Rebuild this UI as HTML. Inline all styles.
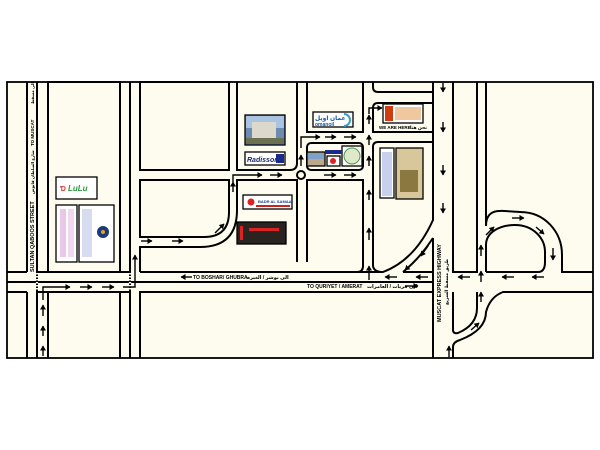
<!DOCTYPE html>
<html><head><meta charset="utf-8"><style>
html,body{margin:0;padding:0;background:#fff;}
svg{display:block;}
text{font-family:"Liberation Sans","DejaVu Sans",sans-serif;font-weight:bold;}
</style></head><body>
<svg width="600" height="450" viewBox="0 0 600 450" xmlns="http://www.w3.org/2000/svg">
<defs>
<marker id="a" markerWidth="6" markerHeight="6" refX="4.5" refY="3" orient="auto" markerUnits="userSpaceOnUse">
<path d="M0,0 L5,3 L0,6 Z" fill="#000"/>
</marker>
</defs>
<rect x="7" y="82" width="586" height="276" fill="#fdfcef" stroke="#000" stroke-width="1.8"/>
<g fill="none" stroke="#000" stroke-width="2">
<path d="M27,82 V272 M27,292 V358"/>
<path d="M37,82 V358"/>
<rect x="48" y="82" width="72" height="190"/>
<path d="M48,358 V292 H120 V358"/>
<path d="M130,82 V358"/>
<rect x="140" y="82" width="89" height="88"/>
<path d="M140,180 H229 V212 Q229,237 204,237 H140 Z"/>
<path d="M140,272 V247 H200 Q237,247 237,210 V180 H297 V262"/>
<path d="M140,358 V292 H433"/>
<path d="M237,82 V170 H290 Q297,170 297,163 V82"/>
<path d="M307,82 V132 H363 V82"/>
<path d="M373,82 V87 Q373,92 378,92 H433"/>
<path d="M433,103 H378 Q373,103 373,108 V132 H433"/>
<rect x="307" y="143" width="56" height="27" rx="4"/>
<circle cx="301" cy="175" r="4"/>
<path d="M307,262 V180 H363 V266 Q363,272 357,272"/>
<path d="M433,142 H378 Q373,142 373,147 V265 Q373,272 383,272 Q415,260 433,220 V82"/>
<path d="M433,238 Q420,258 403,272"/>
<path d="M7,272 H27 M37,272 H48 M120,272 H130 M140,272 H383 M403,272 H433"/>
<path d="M7,282 H433"/>
<path d="M7,292 H27 M37,292 H48 M120,292 H130"/>
<path d="M433,238 V358"/>
<path d="M453,82 V272 H477 V82"/>
<path d="M453,292 V330 Q453,334 458,333 Q477,325 477,308 V292"/>
<path d="M453,358 V347 Q453,342 460,340 Q486,330 486,312 Q490,297 503,292 H593"/>
<path d="M486,82 V226 C486,205 505,212 520,212 C545,212 562,232 562,255 V272 H593"/>
<path d="M486,272 V245 C486,232 500,225 515,225 C533,225 545,238 545,252 V262 Q545,272 538,272 H486"/>
</g>
<g stroke="#fdfcef" stroke-width="2.2" stroke-dasharray="1.5,1.5">
<path d="M37,273 V291 M130,273 V291"/>
</g>
<g fill="none" stroke="#000" stroke-width="1.4" marker-end="url(#a)">
<path d="M43,356 V346"/><path d="M43,336 V326"/><path d="M43,316 V305"/>
<path d="M43,300 V287 H70"/>
<path d="M80,287 H92"/><path d="M102,287 H114"/>
<path d="M123,287 H135 V255"/>
<path d="M141,241 H152"/><path d="M172,241 H183"/>
<path d="M215,233 L224,224"/>
<path d="M233,192 V182"/>
<path d="M233,182 V175 H262"/><path d="M270,175 H282"/>
<path d="M301,166 V155"/>
<path d="M301,148 V137 H320"/><path d="M325,137 H336"/><path d="M344,137 H356"/>
<path d="M324,175 H336"/><path d="M344,175 H356"/>
<path d="M369,280 V266"/><path d="M369,240 V228"/><path d="M369,200 V190"/><path d="M369,166 V156"/><path d="M369,145 V135"/><path d="M369,124 V115"/>
<path d="M369,114 V108 H382"/>
<path d="M397,277 H385"/><path d="M428,277 H416"/>
<path d="M470,277 H458"/><path d="M514,277 H502"/><path d="M544,277 H532"/>
<path d="M443,83 V92"/><path d="M443,122 V132"/><path d="M443,165 V175"/><path d="M443,203 V213"/>
<path d="M481,256 V245"/><path d="M481,282 V271"/><path d="M481,302 V292"/>
<path d="M471,330 L479,323"/><path d="M486,235 L494,227"/>
<path d="M512,218 H524"/><path d="M536,227 L544,234"/><path d="M553,248 V260"/>
<path d="M449,357 V346"/>
<path d="M428,246 L421,256"/><path d="M414,262 L405,270"/>
<path d="M192,277 H181"/>
<path d="M405,286 H418"/>
</g>
<g font-size="5" fill="#000">
<text x="193" y="279">TO BOSHAR/ GHUBRA</text>
<text x="247" y="279" font-weight="normal" font-family="'DejaVu Sans',sans-serif">الى بوشر / الغبرة</text>
<text x="307" y="288">TO QURIYET / AMERAT</text>
<text x="367" y="288" font-weight="normal" font-family="'DejaVu Sans',sans-serif">الى قريات / العامرات</text>
<text x="379" y="129" font-size="4.5">WE ARE HERE</text>
<text x="410" y="129" font-size="4.5" font-weight="normal" font-family="'DejaVu Sans',sans-serif">نحن هنا</text>
<text transform="translate(34,272) rotate(-90)" font-size="5.5">SULTAN QABOOS STREET</text>
<text transform="translate(34,146) rotate(-90)" font-size="4.5" font-weight="normal">TO MUSCAT</text>
<text transform="translate(34,194) rotate(-90)" font-size="4" font-weight="normal" font-family="'DejaVu Sans',sans-serif">شارع السلطان قابوس</text>
<text transform="translate(34,104) rotate(-90)" font-size="4" font-weight="normal" font-family="'DejaVu Sans',sans-serif">الى مسقط</text>
<text transform="translate(441,322) rotate(-90)" font-size="5.5">MUSCAT EXPRESS HIGHWAY</text>
<text transform="translate(448,305) rotate(-90)" font-size="4.5" font-weight="normal" font-family="'DejaVu Sans',sans-serif">طريق مسقط السريع</text>
</g>
<g stroke="#000" stroke-width="1.3">
<rect x="56" y="177" width="41" height="22" fill="#fff"/>
<rect x="56" y="205" width="21" height="57" fill="#fff"/>
<rect x="79" y="205" width="35" height="57" fill="#fff"/>
<rect x="245" y="115" width="40" height="30" fill="#6f8ab0"/>
<rect x="245" y="152" width="40" height="13" fill="#fff"/>
<rect x="243" y="195" width="49" height="14" fill="#fff"/>
<rect x="237" y="222" width="49" height="22" fill="#2a2420"/>
<rect x="313" y="112" width="40" height="15" fill="#fff"/>
<rect x="383" y="104" width="40" height="19" fill="#fff"/>
<rect x="307" y="152" width="18" height="14" fill="#b9a98a"/>
<rect x="327" y="156" width="13" height="10" fill="#fff"/>
<rect x="342" y="146" width="20" height="20" fill="#fff"/>
<rect x="380" y="148" width="14" height="50" fill="#fff"/>
<rect x="396" y="148" width="27" height="51" fill="#d8c79a"/>
</g>
<rect x="246" y="116" width="38" height="12" fill="#a9c3e0"/>
<rect x="252" y="122" width="24" height="18" fill="#dcd8cc"/>
<rect x="246" y="138" width="38" height="6" fill="#6a7050"/>
<text x="247" y="162" font-size="7" font-family="'Liberation Serif',serif" font-style="italic" fill="#1b2a6a">Radisson</text>
<rect x="276" y="154" width="8" height="9" fill="#1b2a8a"/>
<circle cx="251" cy="202" r="3.5" fill="#d22"/>
<text x="258" y="203" font-size="4" fill="#1b3c8a">BADR AL SAMAA</text>
<rect x="256" y="205" width="34" height="2" fill="#c22"/>
<rect x="249" y="228" width="30" height="3" fill="#d22"/>
<rect x="240" y="226" width="3" height="14" fill="#d22"/>
<text x="315" y="120" font-size="6" fill="#1a5aa0">عمان اويل</text>
<text x="315" y="126" font-size="5" fill="#1a5aa0">omanoil</text>
<path d="M344,114 a6,6 0 1,1 0,12" fill="none" stroke="#3aa0c0" stroke-width="2"/>
<rect x="385" y="106" width="8" height="15" fill="#d23a10"/>
<rect x="395" y="107" width="26" height="13" fill="#f0c8a0"/>
<rect x="308" y="153" width="16" height="6" fill="#7fa0c8"/>
<rect x="325" y="150" width="17" height="4" fill="#1b2a8a"/>
<circle cx="333" cy="161" r="3" fill="#d22"/>
<circle cx="352" cy="156" r="8" fill="#dfe8c8" stroke="#4a9a4a" stroke-width="1"/>
<rect x="382" y="152" width="10" height="44" fill="#c8d0f0"/>
<rect x="400" y="170" width="18" height="22" fill="#8a7840"/>
<text x="60" y="191" font-size="7" fill="#e03030">Ɗ</text>
<text x="68" y="191" font-size="8" font-style="italic" fill="#2a9a3a">LuLu</text>
<rect x="60" y="209" width="6" height="48" fill="#e8c8e8"/>
<rect x="68" y="209" width="6" height="48" fill="#f0d8f0"/>
<rect x="82" y="209" width="10" height="48" fill="#d8dcf0"/>
<circle cx="103" cy="232" r="6" fill="#1a3a7a"/>
<circle cx="103" cy="232" r="2" fill="#e8a020"/>
</svg>
</body></html>
